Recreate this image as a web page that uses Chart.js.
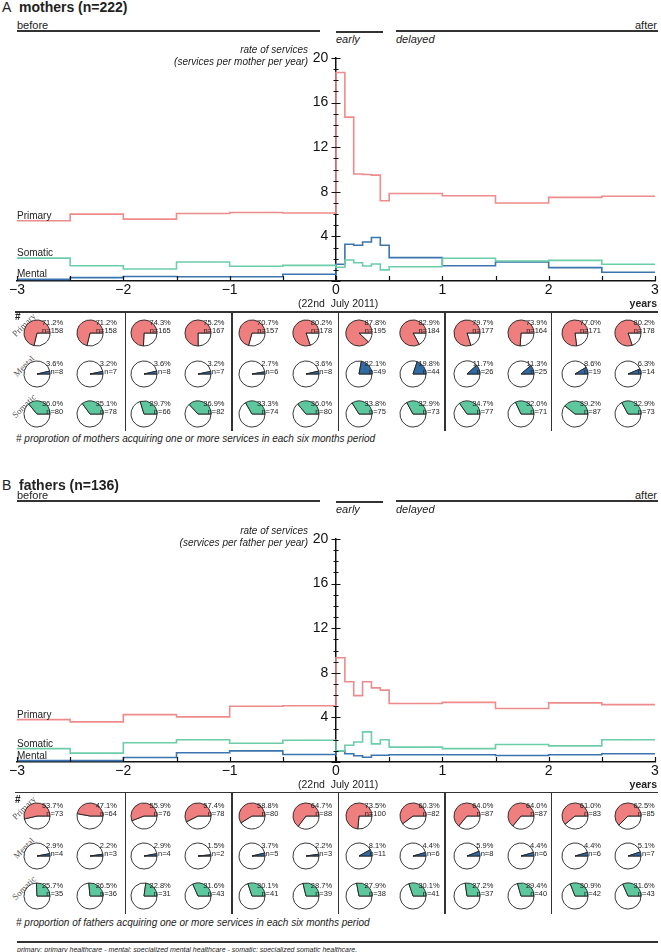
<!DOCTYPE html>
<html>
<head>
<meta charset="utf-8">
<script src="https://cdn.jsdelivr.net/npm/chart.js@4.4.1/dist/chart.umd.min.js"></script>
<style>
  body { margin: 0; background: #fff; }
  #page { position: relative; width: 661px; height: 952px; overflow: hidden; font-family: Arial, "Liberation Sans", sans-serif; color: #222; }
  .t { position: absolute; white-space: nowrap; line-height: 1; }
  .ln { position: absolute; background: #333; }
  .box { position: absolute; }
</style>
</head>
<body>
<div id="page"></div>
<script>
// period edges in years relative to 22nd July 2011 (monthly during the first half year)
var periodEdges = [-3, -2.5, -2, -1.5, -1, -0.5, 0, 1/12, 2/12, 3/12, 4/12, 5/12, 0.5, 1, 1.5, 2, 2.5, 3];

// rate of services, one value per period
var motherPrimary = [5.4, 6.0, 5.55, 6.05, 6.15, 6.1, 18.7, 14.7, 9.6, 9.55, 9.5, 7.2, 7.85, 7.65, 7.0, 7.5, 7.6];
var motherSomatic = [2.05, 1.37, 1.08, 1.7, 1.32, 1.4, 1.23, 1.88, 1.64, 1.35, 1.52, 1.0, 1.28, 2.04, 1.8, 1.85, 1.5];
var motherMental = [0.15, 0.3, 0.4, 0.38, 0.38, 0.6, 1.5, 3.3, 3.2, 3.5, 3.9, 3.2, 2.1, 1.37, 1.7, 1.2, 0.78];

var fatherPrimary = [3.8, 3.6, 4.25, 4.05, 5.0, 5.05, 9.35, 7.2, 5.95, 7.2, 6.65, 6.45, 5.25, 5.35, 4.8, 5.3, 5.15];
var fatherSomatic = [1.2, 0.8, 1.72, 2.0, 1.68, 1.95, 1.0, 1.5, 1.8, 2.7, 1.63, 2.0, 1.33, 1.2, 1.57, 1.45, 2.0];
var fatherMental = [0.12, 0.12, 0.4, 0.83, 1.0, 0.67, 1.0, 0.74, 0.56, 0.43, 0.6, 0.6, 0.65, 0.65, 0.58, 0.65, 0.74];

var xTickStep = 1, xMinorStep = 0.5;
var yTickStep = 4, yMinorStep = 1;

// six month periods: share (%) and count acquiring one or more services
var motherPrimaryPct = [71.2, 71.2, 74.3, 75.2, 70.7, 80.2, 87.8, 82.9, 79.7, 73.9, 77.0, 80.2];
var motherPrimaryN = [158, 158, 165, 167, 157, 178, 195, 184, 177, 164, 171, 178];
var motherMentalPct = [3.6, 3.2, 3.6, 3.2, 2.7, 3.6, 22.1, 19.8, 11.7, 11.3, 8.6, 6.3];
var motherMentalN = [8, 7, 8, 7, 6, 8, 49, 44, 26, 25, 19, 14];
var motherSomaticPct = [36.0, 35.1, 29.7, 36.9, 33.3, 36.0, 33.8, 32.9, 34.7, 32.0, 39.2, 32.9];
var motherSomaticN = [80, 78, 66, 82, 74, 80, 75, 73, 77, 71, 87, 73];

var fatherPrimaryPct = [53.7, 47.1, 55.9, 57.4, 58.8, 64.7, 73.5, 60.3, 64.0, 64.0, 61.0, 62.5];
var fatherPrimaryN = [73, 64, 76, 78, 80, 88, 100, 82, 87, 87, 83, 85];
var fatherMentalPct = [2.9, 2.2, 2.9, 1.5, 3.7, 2.2, 8.1, 4.4, 5.9, 4.4, 4.4, 5.1];
var fatherMentalN = [4, 3, 4, 2, 5, 3, 11, 6, 8, 6, 6, 7];
var fatherSomaticPct = [25.7, 26.5, 22.8, 31.6, 30.1, 28.7, 27.9, 30.1, 27.2, 29.4, 30.9, 31.6];
var fatherSomaticN = [35, 36, 31, 43, 41, 39, 38, 41, 37, 40, 42, 43];

var RED_LINE = '#EE8C8C', BLUE_LINE = '#3B74AE', GREEN_LINE = '#6CCDA9';
var RED = '#EF7E7E', BLUE = '#2F6AA5', GREEN = '#5DC89E';

var page = document.getElementById('page');

function label(text, x, y, font, anchor, extra, html) {
  var d = document.createElement('div');
  d.className = 't';
  if (html) d.innerHTML = text; else d.textContent = text;
  d.style.left = x + 'px';
  d.style.top = y + 'px';
  d.style.font = font;
  var tx = anchor === 'right' ? '-100%' : anchor === 'center' ? '-50%' : '0';
  d.style.transform = 'translate(' + tx + ',-50%)' + (extra || '');
  page.appendChild(d);
  return d;
}

function line(x, y, w, h, color) {
  var d = document.createElement('div');
  d.className = 'ln';
  d.style.left = x + 'px';
  d.style.top = y + 'px';
  d.style.width = w + 'px';
  d.style.height = h + 'px';
  if (color) d.style.background = color;
  page.appendChild(d);
}

function stepPoints(vals) {
  var pts = vals.map(function (v, i) { return { x: periodEdges[i], y: v }; });
  pts.push({ x: periodEdges[periodEdges.length - 1], y: vals[vals.length - 1] });
  return pts;
}

// crossing ticks on y, upward ticks every half year on x
var axisTicks = {
  id: 'axisTicks',
  afterDraw: function (chart) {
    var ctx = chart.ctx, xs = chart.scales.x, ys = chart.scales.y;
    var x0 = xs.getPixelForValue(0), y0 = ys.getPixelForValue(0);
    ctx.save();
    ctx.strokeStyle = '#111';
    ctx.lineWidth = 1.2;
    ctx.beginPath();
    for (var v = ys.min; v <= ys.max; v += yMinorStep) {
      var len = v % yTickStep === 0 ? 4.5 : 2.5;
      var y = Math.round(ys.getPixelForValue(v)) + 0.5;
      ctx.moveTo(x0 - len, y);
      ctx.lineTo(x0 + len, y);
    }
    for (var t = xs.min; t <= xs.max; t += xMinorStep) {
      var x = Math.round(xs.getPixelForValue(t)) + 0.5;
      ctx.moveTo(x, y0);
      ctx.lineTo(x, y0 - 5);
    }
    ctx.stroke();
    ctx.restore();
  }
};

// series names written just above the first step
var seriesNames = {
  id: 'seriesNames',
  afterDatasetsDraw: function (chart) {
    var ctx = chart.ctx, ys = chart.scales.y, left = chart.chartArea.left;
    ctx.save();
    ctx.font = '10px Arial';
    ctx.fillStyle = '#222';
    ctx.textBaseline = 'alphabetic';
    chart.data.datasets.forEach(function (ds) {
      ctx.fillText(ds.label, left, ys.getPixelForValue(ds.data[0].y) - 2);
    });
    ctx.restore();
  }
};

function rateChart(top, chartTop, axisY, primary, somatic, mental) {
  var h = axisY - top + 20;
  var box = document.createElement('div');
  box.className = 'box';
  box.style.left = '0px';
  box.style.top = top + 'px';
  var cv = document.createElement('canvas');
  cv.width = 661; cv.height = h;
  cv.style.width = '661px'; cv.style.height = h + 'px';
  box.appendChild(cv);
  page.appendChild(box);

  function ds(name, vals, color) {
    return { label: name, data: stepPoints(vals), borderColor: color, borderWidth: 1.6, stepped: true, pointRadius: 0, fill: false };
  }

  return new Chart(cv, {
    type: 'line',
    data: { datasets: [ds('Primary', primary, RED_LINE), ds('Somatic', somatic, GREEN_LINE), ds('Mental', mental, BLUE_LINE)] },
    options: {
      responsive: false,
      animation: false,
      events: [],
      layout: { padding: { left: 17, right: 6, top: chartTop - top, bottom: 20 } },
      plugins: { legend: { display: false }, tooltip: { enabled: false } },
      scales: {
        x: {
          type: 'linear', min: -3, max: 3, position: { y: 0 },
          ticks: {
            stepSize: xTickStep, padding: 0, color: '#111', autoSkip: false, maxRotation: 0,
            font: { size: 14, family: 'Arial' },
            callback: function (v) { return v < 0 ? '\u2212' + Math.abs(v) : String(v); }
          },
          grid: { drawOnChartArea: false, tickLength: 1, tickColor: 'rgba(0,0,0,0)' },
          border: { color: '#111', width: 1.5 }
        },
        y: {
          type: 'linear', min: 0, max: 20, position: { x: 0 },
          ticks: {
            stepSize: yTickStep, padding: 3, color: '#111',
            font: { size: 14, family: 'Arial' },
            // centred axis: labels sit on the axis, keep them clear of it
            callback: function (v) { return v === 0 ? '' : String(v) + '  '; }
          },
          grid: { drawOnChartArea: false, tickLength: 4, tickColor: 'rgba(0,0,0,0)' },
          border: { color: '#111', width: 1.5 }
        }
      }
    },
    plugins: [axisTicks, seriesNames]
  });
}

function pie(cx, cy, pct, color) {
  var box = document.createElement('div');
  box.className = 'box';
  box.style.left = (cx - 15) + 'px';
  box.style.top = (cy - 15) + 'px';
  var cv = document.createElement('canvas');
  cv.width = 30; cv.height = 30;
  cv.style.width = '30px'; cv.style.height = '30px';
  box.appendChild(cv);
  page.appendChild(box);
  new Chart(cv, {
    type: 'pie',
    data: { datasets: [{ data: [100 - pct, pct], backgroundColor: ['#fff', color], borderColor: '#222', borderWidth: 0.9 }] },
    options: {
      responsive: false, animation: false, events: [], rotation: 90,
      layout: { padding: 1.5 },
      plugins: { legend: { display: false }, tooltip: { enabled: false } }
    }
  });
}

function panel(p) {
  // title and period bars
  label(p.letter, 2, p.title, '14px Arial', 'left');
  label(p.who, 19, p.title, 'bold 14px Arial', 'left');
  label('before', 17, p.head - 6, '11px Arial', 'left');
  label('after', 657, p.head - 6, '11px Arial', 'right');
  line(17, p.head - 1, 303, 2);
  line(336, p.head - 0.5, 47, 2);
  line(396, p.head - 1, 262, 2);
  label('early', 336, p.head + 7.5, 'italic 11px Arial', 'left');
  label('delayed', 396, p.head + 7.5, 'italic 11px Arial', 'left');

  // rate chart
  rateChart(p.chartTop - 18, p.chartTop, p.axis, p.primary, p.somatic, p.mental);
  label('rate of services', 308, p.chartTop - 9.5, 'italic 10px Arial', 'right');
  label('(services per ' + p.unit + ' per year)', 308, p.chartTop + 2.5, 'italic 10px Arial', 'right');
  label('(22nd\u00a0\u00a0July 2011)', 298, p.date, '10.5px Arial', 'left');
  label('years', 657, p.date, 'bold 10.5px Arial', 'right');

  // six month grid
  line(15, p.grid - 0.75, 643, 1.5);
  for (var k = 0; k < 5; k++) line(124.5 + 106.5 * k, p.grid, 1.5, p.gridEnd - p.grid);
  label('#', 15, p.rows[0] - 17, 'bold 10px Arial', 'left');
  p.pies.forEach(function (row, r) {
    var cy = p.rows[r];
    label(row.name, 24, cy - 8, '9px "Liberation Serif", "Times New Roman", serif', 'center', ' rotate(-45deg)').style.color = '#555';
    row.pct.forEach(function (v, i) {
      pie(36.7 + 53.78 * i, cy, v, row.color);
    });
    row.pct.forEach(function (v, i) {
      var cx = 36.7 + 53.78 * i;
      label(v.toFixed(1) + '%', cx + 26.5, cy - 11, '7.5px Arial', 'right');
      label('n=' + row.n[i], cx + 26.5, cy - 3, '7.5px Arial', 'right');
    });
  });
  label(p.note, 16, p.noteY, 'italic 10px Arial', 'left');
}

panel({
  letter: 'A', who: 'mothers (n=222)', unit: 'mother',
  title: 6.7, head: 31, chartTop: 58, axis: 281, date: 302.7,
  grid: 312, gridEnd: 431, rows: [333.3, 373.7, 413.5], noteY: 438,
  primary: motherPrimary, somatic: motherSomatic, mental: motherMental,
  pies: [
    { name: 'Primary', pct: motherPrimaryPct, n: motherPrimaryN, color: RED },
    { name: 'Mental', pct: motherMentalPct, n: motherMentalN, color: BLUE },
    { name: 'Somatic', pct: motherSomaticPct, n: motherSomaticN, color: GREEN }
  ],
  note: '# proprotion of mothers acquiring one or more services in each six months period'
});

panel({
  letter: 'B', who: 'fathers (n=136)', unit: 'father',
  title: 485, head: 501, chartTop: 539, axis: 762, date: 783.5,
  grid: 792.5, gridEnd: 914, rows: [816, 855.5, 896], noteY: 921.5,
  primary: fatherPrimary, somatic: fatherSomatic, mental: fatherMental,
  pies: [
    { name: 'Primary', pct: fatherPrimaryPct, n: fatherPrimaryN, color: RED },
    { name: 'Mental', pct: fatherMentalPct, n: fatherMentalN, color: BLUE },
    { name: 'Somatic', pct: fatherSomaticPct, n: fatherSomaticN, color: GREEN }
  ],
  note: '# proportion of fathers acquiring one or more services in each six months period'
});

// footer
line(17, 941, 641, 1.5);
label('<u>primary</u>: primary healthcare - <u>mental</u>: specialized mental healthcare - <u>somatic</u>: specialized somatic healthcare.',
  17, 948.5, 'italic 7px Arial', 'left', '', true);
</script>
</body>
</html>
